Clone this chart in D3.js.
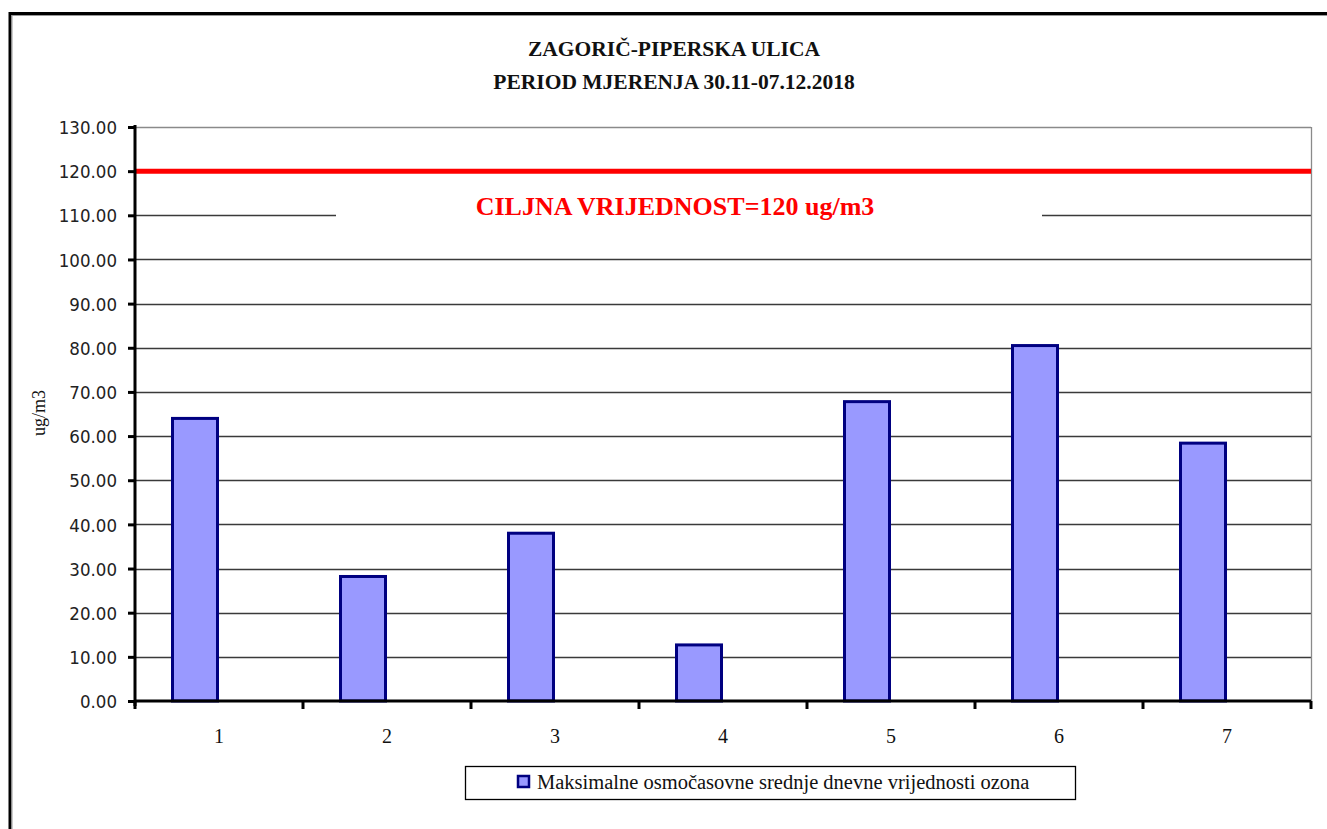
<!DOCTYPE html>
<html><head><meta charset="utf-8">
<script src="https://cdn.jsdelivr.net/npm/d3@7"></script>
<style>body{margin:0;background:#fff;} svg{display:block;}</style>
</head><body>
<svg id="c" width="1327" height="829"></svg>
<script>
const categories = ["1","2","3","4","5","6","7"];
const values = [64.0, 28.2, 38.0, 12.7, 67.8, 80.5, 58.4];
const seriesNames = ["Maksimalne osmočasovne srednje dnevne vrijednosti ozona", ""];
const yTicks = [0,10,20,30,40,50,60,70,80,90,100,110,120,130];
const targetValue = 120;
const targetLabel = "CILJNA VRIJEDNOST=120 ug/m3";
const titleLines = ["ZAGORIČ-PIPERSKA ULICA", "PERIOD MJERENJA 30.11-07.12.2018"];
const yLabel = "ug/m3";

const svg = d3.select("#c");
const L = 135, R = 1311, T = 127, B = 701;
const SERIF = "'Liberation Serif','Times New Roman',Times,serif";

// outer frame
svg.append("rect").attr("x",10).attr("y",13.5).attr("width",1340).attr("height",840)
  .attr("fill","none").attr("stroke","#000").attr("stroke-width",3);
svg.append("rect").attr("x",12).attr("y",15.5).attr("width",1340).attr("height",840)
  .attr("fill","none").attr("stroke","#999").attr("stroke-width",1);

const y = d3.scaleLinear().domain([0,130]).range([B,T]);
const x = d3.scaleBand().domain(categories).range([L,R]).paddingInner(0).paddingOuter(0);
const xs = d3.scaleBand().domain(d3.range(seriesNames.length)).range([0,x.bandwidth()]).paddingInner(0).paddingOuter(0.75);

// gridlines
svg.append("g").selectAll("line").data(yTicks.filter(t=>t>0)).join("line")
  .attr("x1",L).attr("x2",R).attr("y1",d=>Math.round(y(d))+0.5).attr("y2",d=>Math.round(y(d))+0.5)
  .attr("stroke",d=>d===130?"#8a8a8a":"#3a3a3a").attr("stroke-width",1.3);
// right border
svg.append("line").attr("x1",R+0.5).attr("x2",R+0.5).attr("y1",T).attr("y2",B)
  .attr("stroke","#8a8a8a").attr("stroke-width",1.3);

// white box behind target label (covers gridline)
svg.append("rect").attr("x",336).attr("y",186).attr("width",706).attr("height",40).attr("fill","#fff");

// target line
svg.append("line").attr("x1",L).attr("x2",R).attr("y1",y(targetValue)).attr("y2",y(targetValue))
  .attr("stroke","#ff0000").attr("stroke-width",5);

// bars
svg.append("g").selectAll("rect").data(values).join("rect")
  .attr("x",(d,i)=>x(categories[i])+xs(0)+1.5)
  .attr("width",xs.bandwidth()-3)
  .attr("y",d=>y(d))
  .attr("height",d=>B-y(d))
  .attr("fill","#9999ff").attr("stroke","#000080").attr("stroke-width",3);

// y axis
const yAxis = d3.axisLeft(y).tickValues(yTicks).tickFormat(d3.format(".2f")).tickSize(7).tickPadding(11);
const gy = svg.append("g").attr("transform",`translate(${L},0)`).call(yAxis);
gy.select(".domain").remove();
gy.selectAll(".tick line").attr("stroke","#000").attr("stroke-width",3);
gy.selectAll(".tick text").attr("font-family","'DejaVu Sans Condensed','DejaVu Sans',sans-serif")
  .attr("font-size",18.5).attr("fill","#222").attr("dy","0.36em");
svg.append("line").attr("x1",L).attr("x2",L).attr("y1",T-2).attr("y2",B+5).attr("stroke","#000").attr("stroke-width",3);

// x axis
const boundaries = categories.map(c=>x(c)).concat([R]);
svg.append("line").attr("x1",L).attr("x2",R).attr("y1",B).attr("y2",B).attr("stroke","#000").attr("stroke-width",3);
svg.append("g").selectAll("line").data(boundaries).join("line")
  .attr("x1",d=>d).attr("x2",d=>d).attr("y1",B).attr("y2",B+8).attr("stroke","#000").attr("stroke-width",3);
svg.append("g").selectAll("text").data(categories).join("text")
  .attr("x",d=>x(d)+x.bandwidth()/2).attr("y",743)
  .attr("text-anchor","middle").attr("font-family",SERIF)
  .attr("font-size",20).attr("fill","#111").text(d=>d);

// y label
svg.append("text").attr("transform","translate(45,413) rotate(-90)")
  .attr("text-anchor","middle").attr("font-family",SERIF)
  .attr("font-size",18).attr("fill","#111").text(yLabel);

// title
svg.append("g").selectAll("text").data(titleLines).join("text")
  .attr("x",674).attr("y",(d,i)=>56+i*33).attr("text-anchor","middle")
  .attr("font-family",SERIF).attr("font-weight","bold")
  .attr("font-size",21.5).attr("fill","#111").text(d=>d);

// target label
svg.append("text").attr("x",675).attr("y",215).attr("text-anchor","middle")
  .attr("font-family",SERIF).attr("font-weight","bold")
  .attr("font-size",26).attr("fill","#ff0000").text(targetLabel);

// legend
svg.append("rect").attr("x",465.5).attr("y",766.5).attr("width",610).attr("height",33)
  .attr("fill","#fff").attr("stroke","#000").attr("stroke-width",1.3);
svg.append("rect").attr("x",518).attr("y",776).attr("width",11).attr("height",11)
  .attr("fill","#9999ff").attr("stroke","#000080").attr("stroke-width",2.5);
svg.append("text").attr("x",537).attr("y",789)
  .attr("font-family",SERIF).attr("font-size",20.5).attr("fill","#111")
  .text(seriesNames[0]);
</script>
</body></html>
